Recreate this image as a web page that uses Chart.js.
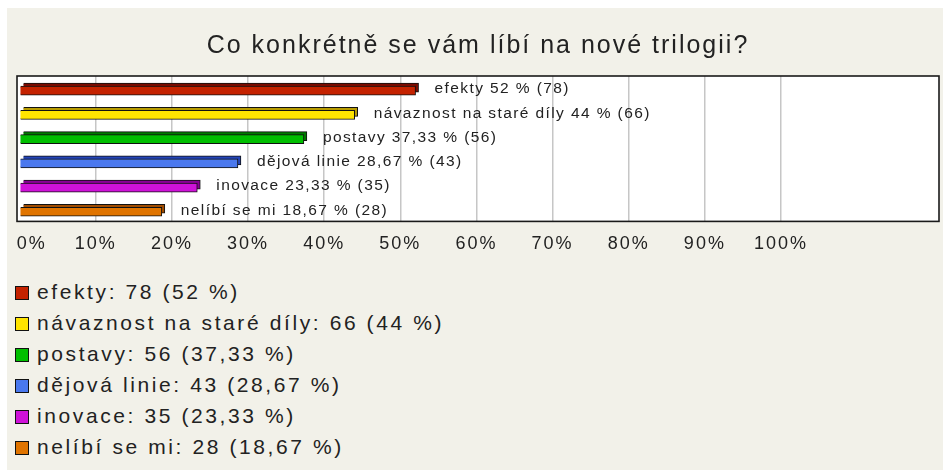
<!DOCTYPE html>
<html>
<head>
<meta charset="utf-8">
<script src="https://cdn.jsdelivr.net/npm/chart.js@4"></script>
<style>
  body { margin: 0; background: #fff; }
  #panel { position: absolute; left: 7px; top: 8px; width: 936px; height: 462px; background: #f2f1e9; }
  #chartBox { position: absolute; left: 0; top: 0; width: 936px; height: 259px; }
  #legend { position: absolute; left: 8px; top: 268px; font-family: "Liberation Sans", Arial, sans-serif; font-size: 21px; letter-spacing: 2.6px; color: #222; }
  #legend div { height: 31px; line-height: 31px; white-space: nowrap; }
  #legend span.sq { display: inline-block; width: 12px; height: 12px; border: 1px solid #111; margin-right: 8px; vertical-align: -1px; }
</style>
</head>
<body>
<div id="panel">
  <div id="chartBox"><canvas id="chart"></canvas></div>
  <div id="legend"></div>
</div>
<script>
const title = 'Co konkrétně se vám líbí na nové trilogii?'
const categories = ['efekty', 'návaznost na staré díly', 'postavy', 'dějová linie', 'inovace', 'nelíbí se mi']
const counts = [78, 66, 56, 43, 35, 28]
const percents = [52, 44, 37.33, 28.67, 23.33, 18.67]
const percentLabels = ['52', '44', '37,33', '28,67', '23,33', '18,67']
const tickValues = [0, 10, 20, 30, 40, 50, 60, 70, 80, 90, 100]
const frontColors = ['#c42200', '#ffe400', '#00bf00', '#4a78ee', '#cf12d8', '#e07400']
const backColors = ['#7c0a00', '#b89c00', '#007800', '#2445b8', '#8a0096', '#a04c00']

// legend under the chart
const legendEl = document.getElementById('legend')
categories.forEach((cat, i) => {
    const row = document.createElement('div')
    row.innerHTML = '<span class="sq" style="background:' + frontColors[i] + '"></span>' +
        cat + ': ' + counts[i] + ' (' + percentLabels[i] + ' %)'
    legendEl.appendChild(row)
})

// 3D look: back bars sit a bit up/right of the front ones
const depthShift = {
    id: 'depthShift',
    beforeDatasetDraw(chart, args) {
        const ctx = chart.ctx
        ctx.save()
        if (args.index === 1) ctx.translate(3, -0.5)
        else ctx.translate(0, 2.5)
    },
    afterDatasetDraw(chart) {
        chart.ctx.restore()
    }
}

const plotFrame = {
    id: 'plotFrame',
    beforeDraw(chart) {
        chart.ctx.letterSpacing = '2px'
        const a = chart.chartArea
        const ctx = chart.ctx
        ctx.save()
        ctx.fillStyle = '#ffffff'
        ctx.fillRect(a.left, a.top, a.right - a.left, a.bottom - a.top)
        ctx.restore()
    },
    afterDraw(chart) {
        const a = chart.chartArea
        const ctx = chart.ctx
        ctx.save()
        ctx.strokeStyle = '#1a1a1a'
        ctx.lineWidth = 1.6
        ctx.strokeRect(a.left, a.top, a.right - a.left, a.bottom - a.top)
        ctx.restore()
    },
    afterDatasetsDraw(chart) {
        const ctx = chart.ctx
        const meta = chart.getDatasetMeta(0)
        ctx.save()
        ctx.font = '15.5px "Liberation Sans", Arial, sans-serif'
        ctx.letterSpacing = '1.4px'
        ctx.fillStyle = '#222'
        ctx.textBaseline = 'middle'
        ctx.textAlign = 'left'
        meta.data.forEach((bar, i) => {
            const label = categories[i] + ' ' + percentLabels[i] + ' % (' + counts[i] + ')'
            ctx.fillText(label, bar.x + 19, bar.y + 1)
        })
        ctx.restore()
    }
}

new Chart(document.getElementById('chart'), {
    type: 'bar',
    data: {
        labels: categories,
        datasets: [{
            data: percents,
            backgroundColor: frontColors,
            borderColor: '#111',
            borderWidth: 1,
            barThickness: 9,
            grouped: false
        }, {
            data: percents,
            backgroundColor: backColors,
            borderColor: '#111',
            borderWidth: 1,
            barThickness: 9,
            grouped: false
        }]
    },
    options: {
        indexAxis: 'y',
        responsive: true,
        maintainAspectRatio: false,
        animation: false,
        layout: { padding: { left: 10, right: 4, top: 0, bottom: 0 } },
        plugins: {
            legend: { display: false },
            tooltip: { enabled: false },
            title: {
                display: true,
                text: title,
                color: '#222',
                font: { family: '"Liberation Sans", Arial, sans-serif', size: 25, weight: 'normal' },
                padding: { top: 23, bottom: 15 }
            }
        },
        scales: {
            x: {
                min: -0.35,
                max: 120.75,
                afterBuildTicks: axis => { axis.ticks = tickValues.map(v => ({ value: v })) },
                afterFit: axis => { axis.paddingLeft = 0; axis.paddingRight = 0 },
                grid: {
                    color: ctx => (ctx.tick && ctx.tick.value === 0) ? 'rgba(0,0,0,0)' : '#c6c6c6',
                    lineWidth: 1.5,
                    drawTicks: false
                },
                border: { display: false },
                ticks: {
                    color: '#222',
                    padding: 12,
                    font: { family: '"Liberation Sans", Arial, sans-serif', size: 18 },
                    // first label sits right of the axis start, as in the original
                    callback: v => (v === 0 ? '\u2007\u2007' : '') + v + '%'
                }
            },
            y: {
                display: false,
                grid: { display: false }
            }
        }
    },
    plugins: [depthShift, plotFrame]
})
</script>
</body>
</html>
